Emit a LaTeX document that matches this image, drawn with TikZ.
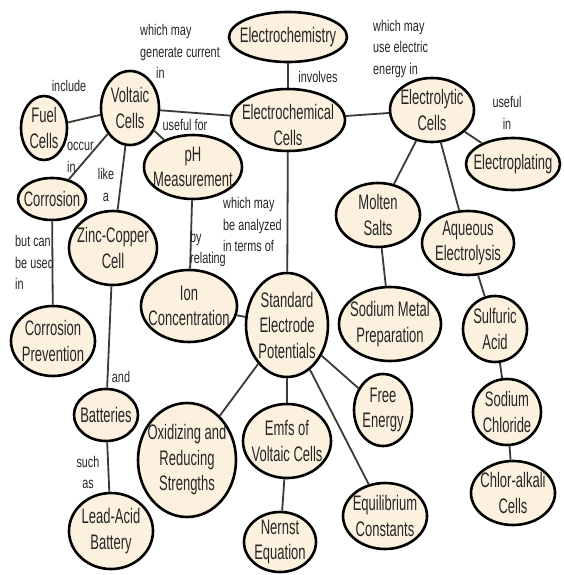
\documentclass[tikz,border=0pt]{standalone}
\usepackage{fontspec}
\usetikzlibrary{shapes.geometric}
\newfontfamily\nfont{Liberation Sans}[FakeStretch=0.62]
\newfontfamily\lfont{Liberation Sans}[FakeStretch=0.70]
\definecolor{cream}{HTML}{FCF1DE}
\definecolor{edgec}{HTML}{3D3A33}
\definecolor{txt}{HTML}{262626}
\tikzset{
  cmbox/.style={ellipse, draw=black, line width=2.6pt, fill=cream, inner sep=0pt},
  cmtext/.style={inner sep=0pt, align=center, text=txt, font=\nfont\fontsize{21}{25.5}\selectfont},
  labbase/.style={inner sep=0pt, text=txt, font=\lfont\fontsize{15.5}{21.5}\selectfont},
  labl/.style={labbase, align=left, anchor=west},
  labc/.style={labbase, align=center},
  link/.style={draw=edgec, line width=1.8pt},
}
\newcommand\cmnode[7][0]{%
  \node[cmbox, minimum width=#5pt, minimum height=#6pt] (#2) at (#3,#4) {};
  \node[cmtext] (#2t) at ([yshift=-#1pt]#2.center) {#7};
}
\begin{document}
\begin{tikzpicture}[x=1pt,y=-1pt]
\useasboundingbox (0,0) rectangle (563,575);
\fill[white] (0,0) rectangle (563,575);
% nodes
\cmnode{ech}{288}{37}{118}{50}{Electrochemistry}
\cmnode[5]{ecc}{288}{120}{114}{62}{Electrochemical\\Cells}
\cmnode{vol}{130}{108}{58}{74}{Voltaic\\Cells}
\cmnode{fuel}{44}{128}{46}{64}{Fuel\\Cells}
\cmnode{ph}{193}{167}{98}{64}{pH\\Measurement}
\cmnode{cor}{52}{199}{68}{42}{Corrosion}
\cmnode{zinc}{113}{248}{88}{74}{Zinc-Copper\\Cell}
\cmnode{cp}{53}{341}{84}{70}{Corrosion\\Prevention}
\cmnode{ion}{189}{306}{96}{72}{Ion\\Concentration}
\cmnode{sep}{287}{325}{82}{104}{Standard\\Electrode\\Potentials}
\cmnode{ely}{432}{110}{84}{64}{Electrolytic\\Cells}
\cmnode{epl}{513}{164}{94}{52}{Electroplating}
\cmnode{mol}{378}{215}{84}{64}{Molten\\Salts}
\cmnode{aq}{468}{243}{92}{64}{Aqueous\\Electrolysis}
\cmnode{smp}{390}{324}{102}{74}{Sodium Metal\\Preparation}
\cmnode{sul}{495}{329}{64}{66}{Sulfuric\\Acid}
\cmnode{nacl}{507}{412}{68}{66}{Sodium\\Chloride}
\cmnode{chl}{513}{493}{84}{64}{Chlor-alkali\\Cells}
\cmnode{fe}{383}{410}{58}{72}{Free\\Energy}
\cmnode{eq}{385}{516}{84}{66}{Equilibrium\\Constants}
\cmnode{emf}{287}{441}{88}{74}{Emfs of\\Voltaic Cells}
\cmnode{ner}{280}{542}{72}{60}{Nernst\\Equation}
\cmnode{ox}{187}{460}{98}{114}{Oxidizing and\\Reducing\\Strengths}
\cmnode{bat}{106}{415}{64}{52}{Batteries}
\cmnode{lead}{111}{531}{84}{76}{Lead-Acid\\Battery}
% connectors
\path[link] (ech) -- (ecc);
\path[link] (ecc) -- (vol);
\path[link] (ecc) -- (ely);
\path[link] (ecc) -- (sep);
\path[link] (vol) -- (fuel);
\path[link] (vol) -- (cor);
\path[link] (vol) -- (zinc);
\path[link] (vol) -- (ph);
\path[link] (cor) -- (cp);
\path[link] (zinc) -- (bat);
\path[link] (bat) -- (lead);
\path[link] (ph) -- (ion);
\path[link] (ion) -- (sep);
\path[link] (ely) -- (epl);
\path[link] (ely) -- (mol);
\path[link] (ely) -- (aq);
\path[link] (mol) -- (smp);
\path[link] (aq) -- (sul);
\path[link] (sul) -- (nacl);
\path[link] (nacl) -- (chl);
\path[link] (sep) -- (ox);
\path[link] (sep) -- (emf);
\path[link] (sep) -- (fe);
\path[link] (sep) -- (eq);
\path[link] (emf) -- (ner);
% labels
\node[labl] (l1) at (140,51.5) {which may\\generate current\\\hspace*{16pt}in};
\node[labc] (l2) at (69,86) {include};
\node[labl] (l3) at (67,157.5) {occur\\in};
\node[labc] (l4) at (185,125) {useful for};
\node[labc] (l5) at (106,185) {like\\a};
\node[labc] (l6) at (318,77) {involves};
\node[labl] (l7) at (373,48.5) {which may\\use electric\\energy in};
\node[labc] (l8) at (507,113) {useful\\in};
\node[labl] (l9) at (15,262.5) {but can\\be used\\in};
\node[labl] (l10) at (190,249) {by\\relating};
\node[labl] (l11) at (223,224.5) {which may\\be analyzed\\in terms of};
\node[labc] (l12) at (121,377) {and};
\node[labc] (l13) at (88,472.5) {such\\as};
\end{tikzpicture}
\end{document}
